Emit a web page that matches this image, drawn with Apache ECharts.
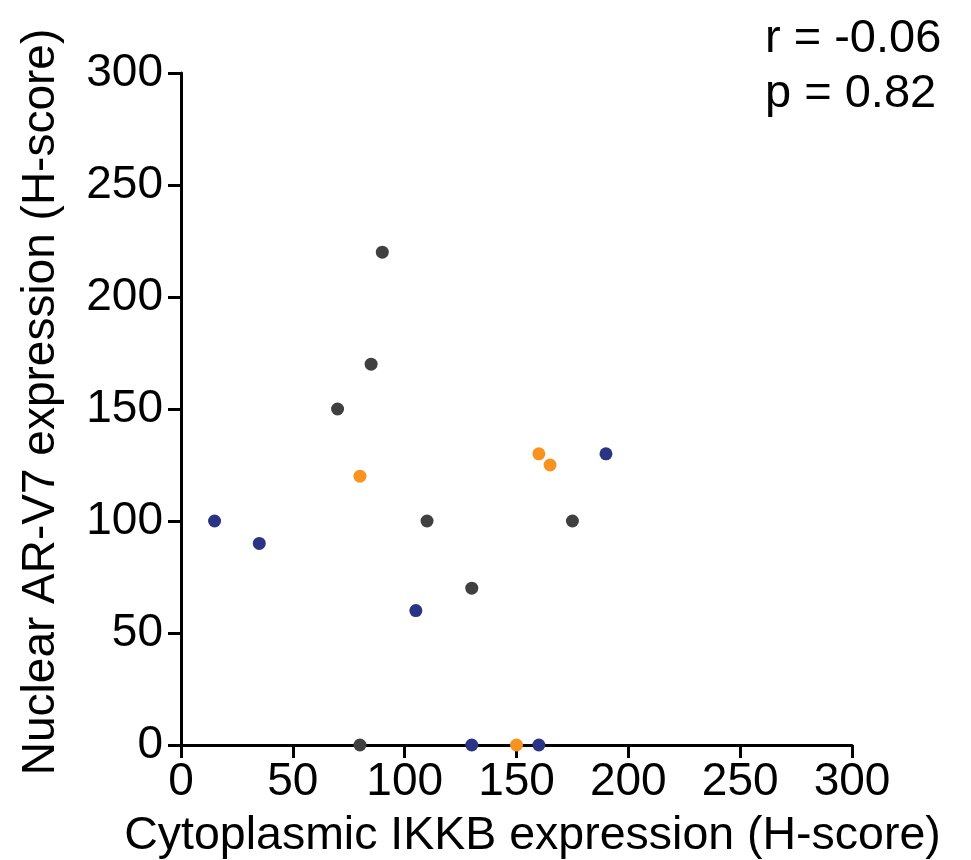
<!DOCTYPE html>
<html><head><meta charset="utf-8">
<script src="https://cdn.jsdelivr.net/npm/echarts@6/dist/echarts.min.js"></script>
<style>html,body{margin:0;padding:0;background:#fff}#c{width:971px;height:860px}</style>
</head><body><div id="c"></div>
<script>
const grayPoints = [[90,220],[85,170],[70,150],[110,100],[130,70],[175,100],[80,0]];
const orangePoints = [[80,120],[160,130],[165,125],[150,0]];
const bluePoints = [[15,100],[35,90],[105,60],[190,130],[130,0],[160,0]];
const xTicks = [0,50,100,150,200,250,300];
const yTicks = [0,50,100,150,200,250,300];
const statsText = ['r = -0.06','p = 0.82'];
const xTitle = 'Cytoplasmic IKKB expression (H-score)';
const yTitle = 'Nuclear AR-V7 expression (H-score)';

const font = 'Liberation Sans, Arial, sans-serif';
const chart = echarts.init(document.getElementById('c'));
const axisCommon = {
  min: 0, max: 300, interval: 50,
  axisLine: {show: true, onZero: false, lineStyle: {color: '#000', width: 3}},
  axisTick: {show: true, inside: false, length: 13, lineStyle: {color: '#000', width: 3}},
  splitLine: {show: false},
  axisLabel: {color: '#000', fontSize: 46, fontFamily: font},
  nameTextStyle: {color: '#000', fontSize: 46, fontFamily: font},
  nameLocation: 'middle'
};
function mk(data, color){
  return {type:'scatter', data: data, symbolSize: 13, itemStyle:{color: color, opacity: 1}, z: 5};
}
chart.setOption({
  animation: false,
  grid: {left: 181, right: 119, top: 73, bottom: 115, containLabel: false, outerBoundsMode: 'none'},
  xAxis: Object.assign({}, axisCommon, {
    type: 'value', name: xTitle, nameGap: 68,
    nameTextStyle: Object.assign({}, axisCommon.nameTextStyle, {fontSize: 46.5, padding: [0, 0, 0, 32]}),
    axisLabel: Object.assign({}, axisCommon.axisLabel, {margin: 14, formatter: v => xTicks.includes(v) ? String(v) : ''})
  }),
  yAxis: Object.assign({}, axisCommon, {
    type: 'value', name: yTitle, nameGap: 117,
    nameTextStyle: Object.assign({}, axisCommon.nameTextStyle, {padding: [0, 0, 0, 14]}),
    axisLabel: Object.assign({}, axisCommon.axisLabel, {margin: 18, formatter: v => yTicks.includes(v) ? String(v) : ''})
  }),
  graphic: [
    {type:'text', left: 765, top: 16, style:{text: statsText[0], font: '47px ' + font, fill:'#000'}},
    {type:'text', left: 765, top: 71, style:{text: statsText[1], font: '47px ' + font, fill:'#000'}}
  ],
  series: [mk(grayPoints,'#404040'), mk(orangePoints,'#F7931E'), mk(bluePoints,'#2B3384')]
});
</script></body></html>
